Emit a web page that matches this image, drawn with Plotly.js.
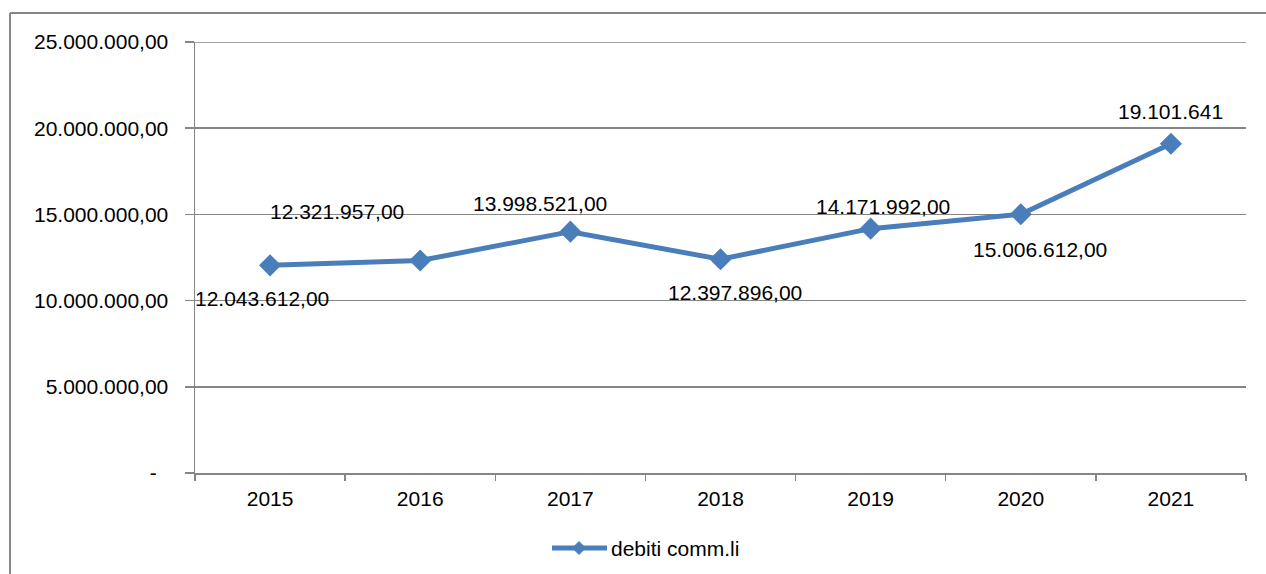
<!DOCTYPE html>
<html>
<head>
<meta charset="utf-8">
<script src="https://cdn.plot.ly/plotly-3.0.1.min.js"></script>
<style>html,body{margin:0;padding:0;background:#fff;}#chart{width:1266px;height:574px;}</style>
</head>
<body>
<div id="chart"></div>
<script>
const years = ['2015','2016','2017','2018','2019','2020','2021'];
const debiti = [12043612, 12321957, 13998521, 12397896, 14171992, 15006612, 19101641];
const labelTexts = ['12.043.612,00','12.321.957,00','13.998.521,00','12.397.896,00','14.171.992,00','15.006.612,00','19.101.641'];
const labelShiftX = [-8, -83, -30, 14, 12, 19, 0];
const labelShiftY = [-33, 49, 28, -33, 22, -35, 32];
const yTickVals = [0, 5000000, 10000000, 15000000, 20000000, 25000000];
const yTickText = ['-\u00A0\u00A0', '5.000.000,00', '10.000.000,00', '15.000.000,00', '20.000.000,00', '25.000.000,00'];
const seriesName = 'debiti comm.li';

const FONT = 'Liberation Sans, Arial, sans-serif';
const FS = 21;
const GRAY = '#868686';
const BLUE = '#4a7ebb';

// pixel -> paper helpers (plot area: x 195..1246, y 42..473)
const PL = 195, PW = 1051, PB = 473, PH = 431;
const px = v => (v - PL) / PW;
const py = v => (PB - v) / PH;

const trace = {
  x: years, y: debiti, type: 'scatter', mode: 'lines+markers', name: seriesName,
  line: {color: BLUE, width: 5},
  marker: {symbol: 'diamond', size: 17, color: BLUE},
  hoverinfo: 'none', showlegend: false
};

const annotations = years.map((yr, i) => ({
  x: i, y: debiti[i], xref: 'x', yref: 'y', text: labelTexts[i], showarrow: false,
  xshift: labelShiftX[i], yshift: labelShiftY[i],
  font: {family: FONT, size: FS, color: '#000'}
}));
annotations.push({
  x: px(609), y: py(548), xref: 'paper', yref: 'paper', xanchor: 'left', yanchor: 'middle',
  text: seriesName, showarrow: false, font: {family: FONT, size: FS, color: '#000'}
});

const lgx = 579, lgy = 548, d = 6.5;
const shapes = [
  {type: 'line', xref: 'paper', yref: 'paper', x0: px(10), x1: px(10), y0: py(13), y1: py(600), line: {color: GRAY, width: 2}},
  {type: 'line', xref: 'paper', yref: 'paper', x0: px(10), x1: px(1300), y0: py(13), y1: py(13), line: {color: GRAY, width: 2}},
  {type: 'line', xref: 'paper', yref: 'y', x0: 0, x1: 1, y0: 25000000, y1: 25000000, line: {color: GRAY, width: 1.5}},
  {type: 'line', xref: 'paper', yref: 'paper', x0: px(552), x1: px(607), y0: py(lgy), y1: py(lgy), line: {color: BLUE, width: 5}},
  {type: 'path', xref: 'paper', yref: 'paper',
   path: `M ${px(lgx)} ${py(lgy - d)} L ${px(lgx + d)} ${py(lgy)} L ${px(lgx)} ${py(lgy + d)} L ${px(lgx - d)} ${py(lgy)} Z`,
   fillcolor: BLUE, line: {color: BLUE, width: 1}}
];

const layout = {
  width: 1266, height: 574,
  margin: {l: 195, r: 20, t: 42, b: 101},
  paper_bgcolor: '#fff', plot_bgcolor: '#fff',
  showlegend: false,
  xaxis: {
    type: 'category', tickson: 'boundaries', ticks: 'outside', ticklen: 6, tickcolor: GRAY, tickwidth: 1.5,
    showline: true, linecolor: GRAY, linewidth: 1.5, showgrid: false, zeroline: false,
    tickfont: {family: FONT, size: FS, color: '#000'}, ticklabelstandoff: 6,
    range: [-0.5, 6.5]
  },
  yaxis: {
    range: [0, 25000000], tickvals: yTickVals, ticktext: yTickText,
    ticks: 'outside', ticklen: 9, tickcolor: GRAY, tickwidth: 1.5,
    showline: true, linecolor: GRAY, linewidth: 1.5,
    showgrid: true, gridcolor: GRAY, gridwidth: 1.5, zeroline: false,
    tickfont: {family: FONT, size: FS, color: '#000'}, ticklabelstandoff: 12
  },
  annotations: annotations,
  shapes: shapes
};

Plotly.newPlot('chart', [trace], layout, {displayModeBar: false, staticPlot: true});
</script>
</body>
</html>
